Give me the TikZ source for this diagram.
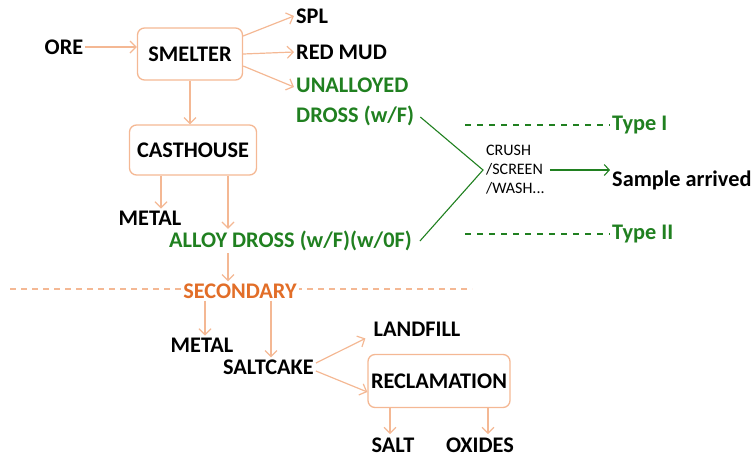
\documentclass[tikz,border=0pt]{standalone}
\usepackage{fontspec}
\setmainfont{Carlito}
\usetikzlibrary{arrows.meta}

\definecolor{flowline}{RGB}{244,184,148}
\definecolor{secorange}{RGB}{226,110,40}
\definecolor{drossgreen}{RGB}{32,128,32}

\tikzset{
  box/.style={draw=flowline, line width=1.3pt, rounded corners=7pt, inner sep=0pt},
  lbl/.style={font=\fontsize{22.3}{26}\selectfont\bfseries, inner sep=2pt},
  flow/.style={draw=flowline, line width=1.2pt, -{Straight Barb[length=6pt,width=12pt]}},
  greenline/.style={draw=drossgreen, line width=1.1pt},
  greenarrow/.style={greenline, -{Straight Barb[length=5pt,width=11pt]}},
  greendash/.style={draw=drossgreen, line width=1.1pt, dash pattern=on 6pt off 6pt}
}

\begin{document}
\begin{tikzpicture}[x=1pt,y=-1pt]
\useasboundingbox (0,0) rectangle (756,459);

% primary route
\node[box, lbl, minimum width=105pt, minimum height=52pt] (smelter) at (190,54) {SMELTER};
\node[lbl] (ore) at (64,47) {ORE};
\node[lbl, anchor=west] (spl) at (294,16) {SPL};
\node[lbl, anchor=west] (redmud) at (294,52) {RED MUD};
\node[lbl, anchor=west, align=left, text=drossgreen, font=\fontsize{22.3}{30}\selectfont\bfseries] (unalloyed) at (294,102) {UNALLOYED\\DROSS (w/F)};
\node[box, lbl, minimum width=127pt, minimum height=50pt] (casthouse) at (193,150) {CASTHOUSE};
\node[lbl] (metal1) at (150,218) {METAL};
\node[lbl, anchor=west, text=drossgreen] (alloy) at (167,241) {ALLOY DROSS (w/F)(w/0F)};

\draw[flow] (ore.east) -- (ore.east -| smelter.west);
\draw[flow] ([yshift=18pt]smelter.east) -- (spl.west);
\draw[flow] (smelter.east) -- (redmud.west);
\draw[flow] ([yshift=-12pt]smelter.east) -- ([yshift=15pt]unalloyed.west);
\draw[flow] (smelter.south) -- (smelter.south |- casthouse.north);
\draw[flow] ([xshift=-32pt]casthouse.south) -- ([xshift=-32pt]casthouse.south |- metal1.north);
\draw[flow] ([xshift=35pt]casthouse.south) -- ([xshift=35pt]casthouse.south |- alloy.north);

% secondary route
\coordinate (divL) at (10,289);
\coordinate (divR) at (472,289);
\coordinate (drop) at (228,0);
\draw[draw=flowline, line width=1.1pt, dash pattern=on 6pt off 5pt] (divL) -- (divR);
\node[lbl, text=secorange, fill=white] (secondary) at (240,291) {SECONDARY};
\draw[flow] (alloy.south -| drop) -- (secondary.north -| drop);

\node[lbl] (metal2) at (202,345) {METAL};
\node[lbl, anchor=west] (saltcake) at (221,367) {SALTCAKE};
\node[lbl] (landfill) at (417,329) {LANDFILL};
\node[box, lbl, minimum width=142pt, minimum height=53pt] (reclaim) at (439,381) {RECLAMATION};
\node[lbl, anchor=base, inner sep=0pt] (salt) at (393,452) {SALT};
\node[lbl, anchor=base, inner sep=0pt] (oxides) at (480,452) {OXIDES};

\draw[flow] ([xshift=-35pt]secondary.south) -- ([xshift=-35pt]secondary.south |- metal2.north);
\draw[flow] ([xshift=31pt]secondary.south) -- ([xshift=31pt]secondary.south |- saltcake.north);
\draw[flow] ([yshift=4pt]saltcake.east) -- ([xshift=-6pt]landfill.south west);
\draw[flow] ([yshift=-4pt]saltcake.east) -- ([yshift=-11pt]reclaim.west);
\draw[flow] ([xshift=-49pt]reclaim.south) -- ([xshift=-49pt,yshift=3pt]reclaim.south |- salt.north);
\draw[flow] ([xshift=49pt]reclaim.south) -- ([xshift=49pt,yshift=3pt]reclaim.south |- oxides.north);

% dross processing
\coordinate (join) at (483,170);
\node[anchor=west, align=left, font=\fontsize{16}{19}\selectfont, inner sep=1pt] (crush) at (485,170) {CRUSH\\/SCREEN\\/WASH...};
\node[lbl, anchor=west] (sample) at (610,180) {Sample arrived};
\node[lbl, anchor=west, text=drossgreen] (type1) at (610,125) {Type I};
\node[lbl, anchor=west, text=drossgreen] (type2) at (610,234) {Type II};
\coordinate (t1) at (465,125);
\coordinate (t2) at (465,234);

\draw[greenline] ([yshift=-15pt,xshift=4pt]unalloyed.east) -- (join) -- ([xshift=6pt]alloy.east);
\draw[greenarrow] ([xshift=4pt]crush.east) -- (crush.east -| sample.west);
\draw[greendash] (t1) -- (type1.west);
\draw[greendash] (t2) -- (type2.west);
\end{tikzpicture}
\end{document}
